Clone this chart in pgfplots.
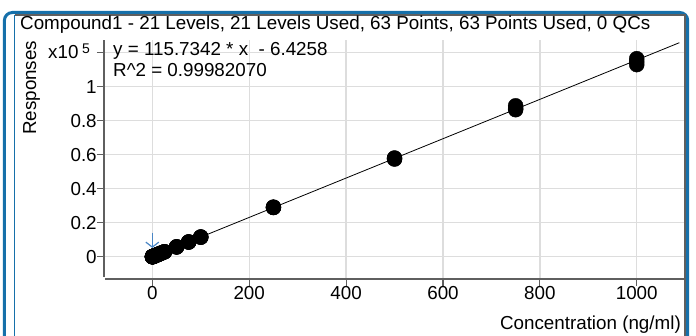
\documentclass[border=0pt]{standalone}
\usepackage{pgfplots}
\pgfplotsset{compat=1.18}
\usepackage{fontspec}
\setmainfont{Liberation Sans}
\usetikzlibrary{arrows.meta}
\definecolor{frameblue}{RGB}{22,112,170}
\definecolor{arrowblue}{RGB}{74,134,197}
\definecolor{gridgray}{RGB}{221,221,221}
\definecolor{axisgray}{RGB}{95,95,95}
\newcommand{\fs}{\fontsize{18.8bp}{21bp}\selectfont}

\pgfplotstableread{
x y
0.1 0.0001
0.1 0.0001
0.1 0.0002
0.25 0.0002
0.25 0.0003
0.25 0.0002
0.5 0.0005
0.5 0.0006
0.5 0.0005
1 0.0011
1 0.0012
1 0.0011
2 0.0022
2 0.0023
2 0.0022
2.5 0.0028
2.5 0.0029
2.5 0.0028
4 0.0046
4 0.0045
4 0.0047
5 0.0057
5 0.0058
5 0.0056
7.5 0.0086
7.5 0.0087
7.5 0.0085
10 0.0115
10 0.0116
10 0.0114
12.5 0.0144
12.5 0.0145
12.5 0.0143
15 0.0173
15 0.0174
15 0.0172
20 0.0231
20 0.0232
20 0.0230
25 0.0289
25 0.0290
25 0.0288
50 0.0578
50 0.0575
50 0.0581
75 0.0867
75 0.0864
75 0.0870
100 0.1157
100 0.1150
100 0.1162
250 0.2893
250 0.2905
250 0.2920
500 0.5780
500 0.5745
500 0.5810
750 0.8650
750 0.8740
750 0.8880
1000 1.1300
1000 1.1480
1000 1.1650
}\pointsdata

\begin{document}
\begin{tikzpicture}[x=1bp,y=1bp]
\useasboundingbox (0,0) rectangle (696,335);
\clip (0,0) rectangle (696,335);
\fill[white] (0,0) rectangle (696,335);
% frame
\draw[frameblue, line width=3bp, rounded corners=8bp] (4.4,-10) -- (4.4,322.5) -- (687.7,322.5) -- (687.7,-10);
\draw[frameblue, line width=1.5bp] (14.5,-10) -- (14.5,320);
\draw[axisgray, line width=1.2bp] (14.5,320) -- (685,320) -- (685,-10);
\begin{axis}[
  at={(103.9bp,56bp)}, anchor=south west,
  scale only axis, width=580.3bp, height=239bp,
  xmin=-100, xmax=1098, ymin=-0.131, ymax=1.275,
  axis lines=left, axis line style={draw=none},
  clip=false,
  xtick={0,200,400,600,800,1000},
  xticklabels={0,200,400,600,800,1000},
  ytick={0,0.2,0.4,0.6,0.8,1,1.2},
  yticklabels={0,0.2,0.4,0.6,0.8,1,{}},
  tick align=outside, major tick length=7bp,
  tick style={axisgray, line width=1.2bp},
  grid=major, major grid style={gridgray, line width=1.3bp},
  ticklabel style={font=\fs, inner sep=0pt},
  xticklabel style={anchor=north},
  yticklabel style={anchor=east},
]
\draw[axisgray, line width=1.5bp] (axis cs:-100,-0.118) -- (axis cs:-100,1.275);
\draw[axisgray, line width=1.5bp] (axis cs:-98,-0.131) -- (axis cs:1098,-0.131);
\addplot[black, line width=0.8bp] coordinates {(0,-0.0001) (1088,1.2591)};
\addplot[only marks, mark=*, mark size=7.5bp, black] table[x=x, y=y] {\pointsdata};
\draw[arrowblue, line width=1.2bp, -{Straight Barb[length=5bp,width=13bp]}] (axis cs:0,0.142) -- (axis cs:0,0.052);
\end{axis}
\node[anchor=base west, inner sep=0] at (20,305.5) {\fs Compound1 - 21 Levels, 21 Levels Used, 63 Points, 63 Points Used, 0 QCs};
\node[anchor=base west, inner sep=0] at (113,280) {\fs y = 115.7342 * x\ \ - 6.4258};
\node[anchor=base west, inner sep=0] at (113,258.3) {\fs R\textasciicircum 2 = 0.99982070};
\node[rotate=90, anchor=base west, inner sep=0] at (36,200) {\fs Responses};
\node[anchor=base west, inner sep=0] at (48,276.7) {\fs x10};
\node[anchor=base west, inner sep=0] at (82,282) {\fontsize{14bp}{14bp}\selectfont 5};
\node[anchor=base east, inner sep=0] at (681,6) {\fs Concentration (ng/ml)};
\end{tikzpicture}
\end{document}
